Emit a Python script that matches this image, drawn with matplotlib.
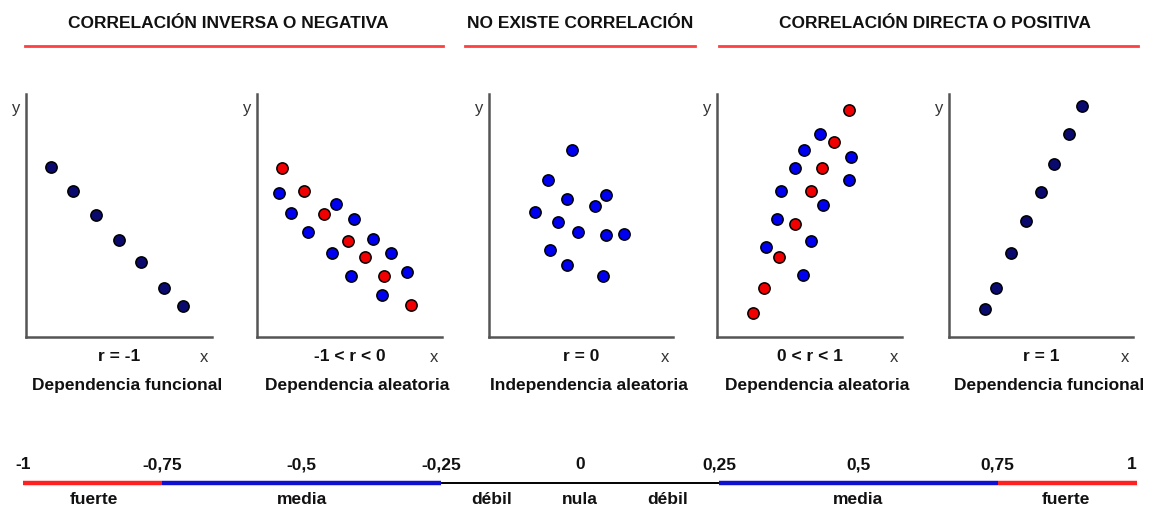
import matplotlib.pyplot as plt
from matplotlib.lines import Line2D

plt.rcParams['font.family'] = ['Liberation Sans Narrow', 'Liberation Sans', 'DejaVu Sans']

W, H = 1157, 510

# ---------------------------------------------------------
# datos (escala 0-10 en cada panel)
# ---------------------------------------------------------
p1_x = [1.34, 2.53, 3.76, 5.00, 6.18, 7.42, 8.44]
p1_y = [7.00, 6.01, 5.02, 3.99, 3.09, 2.02, 1.28]

p2_red_x = [1.35, 2.54, 3.62, 4.92, 5.84, 6.86, 8.32]
p2_red_y = [6.95, 6.01, 5.06, 3.95, 3.29, 2.51, 1.32]
p2_blue_x = [1.19, 1.84, 4.27, 5.24, 2.76, 6.27, 4.05, 7.24, 5.08, 8.11, 6.76]
p2_blue_y = [5.93, 5.10, 5.47, 4.86, 4.32, 4.03, 3.46, 3.46, 2.51, 2.67, 1.73]

p3_x = [4.51, 3.21, 4.24, 6.36, 5.76, 2.50, 3.75, 4.84, 6.36, 7.34, 3.32, 4.24, 6.20]
p3_y = [7.70, 6.46, 5.68, 5.84, 5.39, 5.14, 4.73, 4.32, 4.20, 4.24, 3.58, 2.96, 2.51]

p4_red_x = [7.14, 6.32, 5.68, 5.08, 4.22, 3.35, 2.54, 1.95]
p4_red_y = [9.34, 8.02, 6.95, 6.01, 4.65, 3.29, 2.02, 0.99]
p4_blue_x = [5.57, 4.70, 7.24, 4.22, 7.14, 3.46, 5.73, 3.24, 5.08, 2.65, 4.65]
p4_blue_y = [8.35, 7.70, 7.41, 6.95, 6.46, 6.01, 5.43, 4.86, 3.95, 3.70, 2.55]

p5_x = [7.23, 6.52, 5.71, 5.00, 4.18, 3.37, 2.55, 1.96]
p5_y = [9.51, 8.35, 7.12, 5.97, 4.77, 3.46, 2.02, 1.15]

r_labels = ["r = -1", "-1 < r < 0", "r = 0", "0 < r < 1", "r = 1"]
subtitles = ["Dependencia funcional", "Dependencia aleatoria", "Independencia aleatoria",
             "Dependencia aleatoria", "Dependencia funcional"]

headers = ["CORRELACIÓN INVERSA O NEGATIVA", "NO EXISTE CORRELACIÓN",
           "CORRELACIÓN DIRECTA O POSITIVA"]

# escala de r
scale_ticks = [-1, -0.75, -0.5, -0.25, 0, 0.25, 0.5, 0.75, 1]
scale_tick_labels = ["-1", "-0,75", "-0,5", "-0,25", "0", "0,25", "0,5", "0,75", "1"]
seg_start = [-1, -0.75, -0.25, 0.25, 0.75]
seg_end = [-0.75, -0.25, 0.25, 0.75, 1]
seg_color = ["#ff2020", "#1010d0", "black", "#1010d0", "#ff2020"]
seg_width = [3.2, 3.2, 1.4, 3.2, 3.2]
strength_pos = [-0.873, -0.5, -0.158, 0, 0.158, 0.5, 0.873]
strength_labels = ["fuerte", "media", "débil", "nula", "débil", "media", "fuerte"]

NAVY = "#0a0a6e"
BLUE = "#0000f0"
RED = "#f00000"


def fx(x):
    return x / W


def fy(y):
    return 1 - y / H


fig = plt.figure(figsize=(W / 100, H / 100), dpi=100)

# ---------------------------------------------------------
# cabeceras
# ---------------------------------------------------------
header_cx = [228, 580, 935]
header_lines = [(25, 443), (465, 695), (719, 1138)]
for txt, cx, (x0, x1) in zip(headers, header_cx, header_lines):
    fig.text(fx(cx), fy(23), txt, ha="center", va="center", fontsize=12.5,
             fontweight="bold", color="#111111")
    fig.add_artist(Line2D([fx(x0), fx(x1)], [fy(47), fy(47)], color="#ff4040", lw=2))

# ---------------------------------------------------------
# paneles
# ---------------------------------------------------------
panel_left = [26, 257, 489, 717, 949]
panel_w = [186, 185, 184, 185, 184]
top, bottom = 95, 338

series = [
    [(p1_x, p1_y, NAVY)],
    [(p2_blue_x, p2_blue_y, BLUE), (p2_red_x, p2_red_y, RED)],
    [(p3_x, p3_y, BLUE)],
    [(p4_blue_x, p4_blue_y, BLUE), (p4_red_x, p4_red_y, RED)],
    [(p5_x, p5_y, NAVY)],
]

for i in range(5):
    left = panel_left[i]
    ax = fig.add_axes([fx(left), fy(bottom), panel_w[i] / W, (bottom - top) / H])
    ax.set_xlim(0, 10)
    ax.set_ylim(0, 10)
    for s in ["top", "right"]:
        ax.spines[s].set_visible(False)
    for s in ["left", "bottom"]:
        ax.spines[s].set_color("#555555")
        ax.spines[s].set_linewidth(1.8)
    ax.set_xticks([])
    ax.set_yticks([])
    ax.patch.set_alpha(0)
    for xs, ys, c in series[i]:
        ax.scatter(xs, ys, s=66, color=c, edgecolors="black", linewidths=1.1,
                   zorder=3, clip_on=False)

    right = left + panel_w[i]
    cx = left + panel_w[i] / 2
    fig.text(fx(left - 10), fy(108), "y", ha="center", va="center", fontsize=12,
             color="#333333")
    fig.text(fx(right - 8), fy(358), "x", ha="center", va="center", fontsize=12,
             color="#333333")
    fig.text(fx(cx), fy(357), r_labels[i], ha="center", va="center", fontsize=12.5,
             fontweight="bold", color="#111111")
    fig.text(fx(cx + 8), fy(386), subtitles[i], ha="center", va="center",
             fontsize=12.5, fontweight="bold", color="#111111")

# ---------------------------------------------------------
# escala de r
# ---------------------------------------------------------
axs = fig.add_axes([fx(23), fy(510), (1137 - 23) / W, 60 / H])
axs.set_xlim(-1, 1)
axs.set_ylim(0, 60)
axs.axis("off")
for a, b, c, w in zip(seg_start, seg_end, seg_color, seg_width):
    axs.plot([a, b], [26, 26], color=c, lw=w, solid_capstyle="butt")
for v, lab in zip(scale_ticks, scale_tick_labels):
    ha = "center"
    if v == 1:
        ha = "right"
    axs.text(v, 45, lab, ha=ha, va="center", fontsize=12.5, fontweight="bold",
             color="#111111")
for v, lab in zip(strength_pos, strength_labels):
    axs.text(v, 10, lab, ha="center", va="center", fontsize=12.5, fontweight="bold",
             color="#111111")

fig.savefig("out.png", dpi=100, facecolor="white")
